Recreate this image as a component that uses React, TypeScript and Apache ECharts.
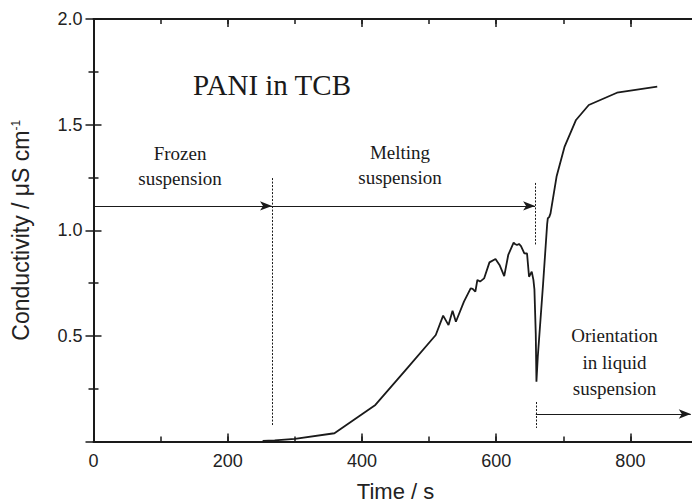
import React, { useEffect, useRef } from "react";
import * as echarts from "echarts";

// Measured curve: time (s) and conductivity (µS cm^-1)
const curveTime = [252, 270, 300, 359, 420, 465, 510, 521, 529, 535, 540, 552, 562, 565, 569, 572, 576, 582, 590, 599, 605, 612, 618, 626, 628, 631, 634, 637, 642, 646, 649, 653, 655.5, 657, 659, 660, 662, 670, 676, 677, 679, 681, 690, 702, 719, 738, 780, 840];
const curveValue = [0.003, 0.005, 0.012, 0.039, 0.173, 0.338, 0.504, 0.596, 0.551, 0.619, 0.567, 0.662, 0.725, 0.722, 0.709, 0.765, 0.757, 0.772, 0.848, 0.864, 0.836, 0.783, 0.883, 0.941, 0.935, 0.93, 0.935, 0.925, 0.891, 0.89, 0.78, 0.804, 0.765, 0.72, 0.51, 0.283, 0.4, 0.75, 1.03, 1.057, 1.062, 1.08, 1.254, 1.396, 1.522, 1.593, 1.651, 1.68];

// Phase boundaries (time) and annotation levels
const boundaryTimes = [266, 658];
const arrowLevel = 1.115;
const lowerArrowLevel = 0.13;
const lowerArrowEnd = 890;
const dashed1 = [1.247, 0.078];
const dashed2 = [1.224, 0.93];
const dashed3 = [0.187, 0.064];

const title = "PANI in TCB";
const phaseLabels = ["Frozen\nsuspension", "Melting\nsuspension", "Orientation\nin liquid\nsuspension"];

const SANS = '"Liberation Sans", Arial, Helvetica, sans-serif';
const SERIF = '"Liberation Serif", "Times New Roman", Times, serif';
const INK = "#1a1a1a";

export default function App() {
  const ref = useRef<HTMLDivElement>(null);

  useEffect(() => {
    document.body.style.margin = "0";
    if (!ref.current) return;
    const chart = echarts.init(ref.current, undefined, { renderer: "svg" });

    const axisLine = { show: true, lineStyle: { color: INK, width: 2 } };
    const baseX = (pos: "top" | "bottom", interval: number, len: number, labels: boolean, line: boolean) => ({
      type: "value" as const,
      position: pos,
      min: 0,
      max: 900,
      interval,
      axisLine: line ? axisLine : { show: false },
      axisTick: { show: true, inside: true, length: len, lineStyle: { color: INK, width: 1.5 } },
      axisLabel: labels
        ? {
            show: true,
            fontFamily: SANS,
            fontSize: 18,
            color: "#222",
            margin: 10,
            formatter: (v: number) => (v % 200 === 0 && v <= 800 ? String(v) : ""),
          }
        : { show: false },
      splitLine: { show: false },
    });

    const dashStyle = { color: INK, width: 1, type: [2, 1.5] as number[] };
    const arrowStyle = { color: INK, width: 1.2, type: "solid" as const };

    const option: any = {
      animation: false,
      grid: { left: 93.5, top: 19, width: 604, height: 422.5, containLabel: false, outerBoundsMode: "none" },
      xAxis: [
        {
          ...baseX("bottom", 200, 8, true, true),
          name: "Time / s",
          nameLocation: "middle",
          nameGap: 39,
          nameTextStyle: { fontFamily: SANS, fontSize: 22, color: "#222", lineHeight: 22 },
        },
        baseX("bottom", 100, 5, false, false),
        baseX("top", 200, 8, false, true),
        baseX("top", 100, 5, false, false),
      ],
      yAxis: [
        {
          type: "value",
          position: "left",
          min: 0,
          max: 2,
          interval: 0.5,
          axisLine,
          axisTick: { show: true, inside: true, length: 8, lineStyle: { color: INK, width: 1.5 } },
          minorTick: { show: true, splitNumber: 2, length: 5, lineStyle: { color: INK, width: 1.5 } },
          axisLabel: {
            fontFamily: SANS,
            fontSize: 18,
            color: "#222",
            margin: 11,
            formatter: (v: number) => (v === 0 ? "" : v.toFixed(1)),
          },
          splitLine: { show: false },
          minorSplitLine: { show: false },
          name: "Conductivity / μS cm{sup|-1}",
          nameLocation: "middle",
          nameGap: 61,
          nameTextStyle: {
            fontFamily: SANS,
            fontSize: 23,
            color: "#222",
            rich: {
              sup: { fontFamily: SANS, fontSize: 12, color: "#222", verticalAlign: "top", lineHeight: 23 },
            },
          },
        },
        {
          type: "value",
          position: "right",
          min: 0,
          max: 2,
          interval: 0.5,
          axisLine,
          axisTick: { show: true, inside: true, length: 8, lineStyle: { color: INK, width: 1.5 } },
          minorTick: { show: true, splitNumber: 2, length: 5, lineStyle: { color: INK, width: 1.5 } },
          axisLabel: { show: false },
          splitLine: { show: false },
        },
      ],
      series: [
        {
          type: "line",
          xAxisIndex: 0,
          yAxisIndex: 0,
          data: curveTime.map((t, i) => [t, curveValue[i]]),
          showSymbol: false,
          symbol: "none",
          lineStyle: { color: INK, width: 1.8 },
          silent: true,
          markLine: {
            silent: true,
            animation: false,
            label: { show: false },
            emphasis: { disabled: true },
            data: [
              [
                { coord: [0, arrowLevel], symbol: "none", lineStyle: arrowStyle },
                { coord: [boundaryTimes[0], arrowLevel], symbol: "arrow", symbolSize: [7, 12] },
              ],
              [
                { coord: [boundaryTimes[0], arrowLevel], symbol: "none", lineStyle: arrowStyle },
                { coord: [boundaryTimes[1], arrowLevel], symbol: "arrow", symbolSize: [7, 12] },
              ],
              [
                { coord: [boundaryTimes[1] + 1, lowerArrowLevel], symbol: "none", lineStyle: arrowStyle },
                { coord: [lowerArrowEnd, lowerArrowLevel], symbol: "arrow", symbolSize: [7, 12] },
              ],
              [
                { coord: [boundaryTimes[0], dashed1[0]], symbol: "none", lineStyle: dashStyle },
                { coord: [boundaryTimes[0], dashed1[1]], symbol: "none" },
              ],
              [
                { coord: [boundaryTimes[1], dashed2[0]], symbol: "none", lineStyle: dashStyle },
                { coord: [boundaryTimes[1], dashed2[1]], symbol: "none" },
              ],
              [
                { coord: [boundaryTimes[1] + 1, dashed3[0]], symbol: "none", lineStyle: dashStyle },
                { coord: [boundaryTimes[1] + 1, dashed3[1]], symbol: "none" },
              ],
            ],
          },
        },
      ],
      graphic: [
        {
          type: "text",
          x: 272,
          y: 84.5,
          silent: true,
          style: { text: title, font: `29px ${SERIF}`, fill: INK, align: "center", verticalAlign: "middle" },
        },
        {
          type: "text",
          x: 180,
          y: 165.5,
          silent: true,
          style: { text: phaseLabels[0], font: `19px ${SERIF}`, lineHeight: 25, fill: INK, align: "center", verticalAlign: "middle" },
        },
        {
          type: "text",
          x: 400,
          y: 165,
          silent: true,
          style: { text: phaseLabels[1], font: `19px ${SERIF}`, lineHeight: 25, fill: INK, align: "center", verticalAlign: "middle" },
        },
        {
          type: "text",
          x: 614.5,
          y: 362,
          silent: true,
          style: { text: phaseLabels[2], font: `19px ${SERIF}`, lineHeight: 26.5, fill: INK, align: "center", verticalAlign: "middle" },
        },
      ],
    };

    chart.setOption(option);
    return () => chart.dispose();
  }, []);

  return <div ref={ref} style={{ width: 692, height: 503 }} />;
}
